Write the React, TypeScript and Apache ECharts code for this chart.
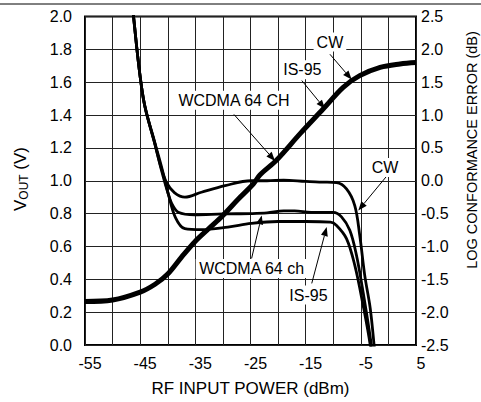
import React, { useEffect, useRef } from 'react';
import * as echarts from 'echarts';

// RF input power (dBm) and VOUT (V) — thick transfer curve, left axis
const voutX = [-55, -50, -45, -42.3, -40, -37.5, -35, -32.6, -30, -27.2, -24.5, -23.3, -20.3, -16, -11.8, -8.2, -5.2, -1.5, 2.1, 5];
const voutV = [0.265, 0.274, 0.322, 0.37, 0.432, 0.535, 0.632, 0.708, 0.789, 0.889, 0.98, 1.035, 1.125, 1.287, 1.438, 1.569, 1.64, 1.69, 1.711, 1.72];

// Log conformance error (dB), right axis
const cwX = [-47, -46.2, -44.4, -42.3, -41.2, -40.2, -38.8, -36.9, -33.9, -29.6, -24.9, -22, -19, -15, -12, -9.4, -7.6, -6.1, -5.2, -4.3, -3.3, -2.6, -2.3];
const cwErr = [3.3, 2.5, 1.24, 0.55, 0.2, -0.03, -0.18, -0.25, -0.175, -0.075, 0.0, 0.0, 0.01, -0.01, -0.02, -0.03, -0.125, -0.377, -0.83, -1.436, -1.94, -2.5, -2.8];

const wcdmaX = [-47, -46.2, -44.4, -42.3, -41.2, -40.2, -39.2, -38.1, -35.1, -30, -25, -22, -19, -17, -14, -10, -8.5, -7.0, -5.8, -4.6, -3.1, -2.8];
const wcdmaErr = [3.3, 2.5, 1.24, 0.55, 0.18, -0.12, -0.36, -0.478, -0.518, -0.505, -0.5, -0.49, -0.46, -0.46, -0.48, -0.48, -0.55, -0.755, -1.13, -1.69, -2.5, -2.8];

const is95X = [-47, -46.2, -44.4, -42.3, -41.0, -39.9, -38.6, -36.9, -33.9, -29.1, -24.9, -20, -15, -10.5, -9.4, -7.6, -6.1, -4.6, -3.3, -3.0];
const is95Err = [3.3, 2.5, 1.24, 0.57, 0.17, -0.2, -0.56, -0.73, -0.745, -0.705, -0.65, -0.62, -0.62, -0.63, -0.68, -0.88, -1.285, -1.89, -2.5, -2.8];

// Annotations: label text, label centre (dBm, V), arrow from/to (dBm, V)
const annoText = ['CW', 'IS-95', 'WCDMA 64 CH', 'CW', 'WCDMA 64 ch', 'IS-95'];
const annoAt = [[-10.6, 1.844], [-15.6, 1.676], [-28, 1.49], [-0.6, 1.081], [-24.8, 0.466], [-14.5, 0.304]];
const arrowFrom = [[-10.6, 1.77], [-15.7, 1.61], [-28, 1.404], [-0.44, 1.023], [-24.8, 0.527], [-13.9, 0.375]];
const arrowTo = [[-6.66, 1.616], [-11.5, 1.438], [-20.56, 1.121], [-5.46, 0.819], [-22.97, 0.789], [-11.19, 0.718]];

const zip = (xs: number[], ys: number[]) => xs.map((x, i) => [x, ys[i]]);
const FONT = "'Liberation Sans', Arial, sans-serif";

export default function App() {
  const ref = useRef<HTMLDivElement>(null);
  useEffect(() => {
    if (!ref.current) return;
    const chart = echarts.init(ref.current, null, { renderer: 'svg' });
    const errLine = { type: 'line', yAxisIndex: 1, showSymbol: false, smooth: 0.35, lineStyle: { color: '#000', width: 2.8 }, z: 3 };
    chart.setOption({
      animation: false,
      grid: { left: 85, right: 65, top: 16.5, bottom: 55, show: true, borderColor: '#000', borderWidth: 2, backgroundColor: 'transparent' },
      xAxis: {
        type: 'value', min: -55, max: 5, interval: 5,
        axisLine: { show: false }, axisTick: { show: false },
        splitLine: { show: true, lineStyle: { color: '#222', width: 1 } },
        axisLabel: {
          color: '#000', fontSize: 16, fontFamily: FONT, margin: 10, padding: [0, 0, 0, 10],
          formatter: (v: number) => (Math.round(v + 55) % 10 === 0 ? String(v) : ''),
        },
        name: 'RF INPUT POWER (dBm)', nameLocation: 'middle', nameGap: 35,
        nameTextStyle: { color: '#000', fontSize: 17, fontFamily: FONT },
      },
      yAxis: [
        {
          type: 'value', min: 0, max: 2, interval: 0.2,
          axisLine: { show: false }, axisTick: { show: false },
          splitLine: { show: true, lineStyle: { color: '#222', width: 1 } },
          axisLabel: { color: '#000', fontSize: 16, fontFamily: FONT, margin: 13, formatter: (v: number) => v.toFixed(1) },
        },
        {
          type: 'value', min: -2.5, max: 2.5, interval: 0.5, position: 'right',
          axisLine: { show: false }, axisTick: { show: false }, splitLine: { show: false },
          axisLabel: { color: '#000', fontSize: 16, fontFamily: FONT, margin: 5, formatter: (v: number) => v.toFixed(1) },
        },
      ],
      series: [
        { ...errLine, name: 'CW', data: zip(cwX, cwErr) },
        { ...errLine, name: 'WCDMA', data: zip(wcdmaX, wcdmaErr) },
        { ...errLine, name: 'IS-95', data: zip(is95X, is95Err) },
        { type: 'line', name: 'VOUT', yAxisIndex: 0, showSymbol: false, smooth: 0.35, lineStyle: { color: '#000', width: 5 }, z: 4, data: zip(voutX, voutV) },
      ],
    });

    const toPx = (p: number[]) => chart.convertToPixel({ seriesIndex: 3 }, p) as number[];
    const graphics: any[] = [
      { type: 'line', shape: { x1: 0, y1: 4, x2: 481, y2: 4 }, style: { stroke: '#000', lineWidth: 1 }, z: 100 },
      {
        type: 'text', x: 20, y: 179, rotation: Math.PI / 2, z: 100,
        style: {
          text: '{a|V}{b|OUT}{a| (V)}', align: 'center', verticalAlign: 'middle', fill: '#000',
          rich: {
            a: { fontSize: 17, fontFamily: FONT, fill: '#000' },
            b: { fontSize: 12, fontFamily: FONT, fill: '#000', padding: [7, 0, 0, 0] },
          },
        },
      },
      {
        type: 'text', x: 471.5, y: 150, rotation: Math.PI / 2, z: 100,
        style: { text: 'LOG CONFORMANCE ERROR (dB)', fontSize: 14.5, fontFamily: FONT, fill: '#000', align: 'center', verticalAlign: 'middle' },
      },
    ];
    annoText.forEach((t, i) => {
      const c = toPx(annoAt[i]);
      const a = toPx(arrowFrom[i]);
      const b = toPx(arrowTo[i]);
      const dx = b[0] - a[0], dy = b[1] - a[1];
      const len = Math.hypot(dx, dy);
      const ux = dx / len, uy = dy / len;
      const hl = 9, hw = 3.5;
      const bx = b[0] - ux * hl, by = b[1] - uy * hl;
      graphics.push({ type: 'line', shape: { x1: a[0], y1: a[1], x2: bx, y2: by }, style: { stroke: '#000', lineWidth: 1 }, z: 101 });
      graphics.push({
        type: 'polygon', z: 101,
        shape: { points: [[b[0], b[1]], [bx - uy * hw, by + ux * hw], [bx + uy * hw, by - ux * hw]] },
        style: { fill: '#000' },
      });
      graphics.push({
        type: 'text', x: c[0], y: c[1], z: 102,
        style: { text: t, fontSize: 16, fontFamily: FONT, fill: '#000', align: 'center', verticalAlign: 'middle', backgroundColor: '#fff', padding: [2, 3, 1, 3] },
      });
    });
    chart.setOption({ graphic: graphics });
    return () => chart.dispose();
  }, []);
  return <div ref={ref} style={{ position: 'absolute', left: 0, top: 0, width: 481, height: 402 }} />;
}
